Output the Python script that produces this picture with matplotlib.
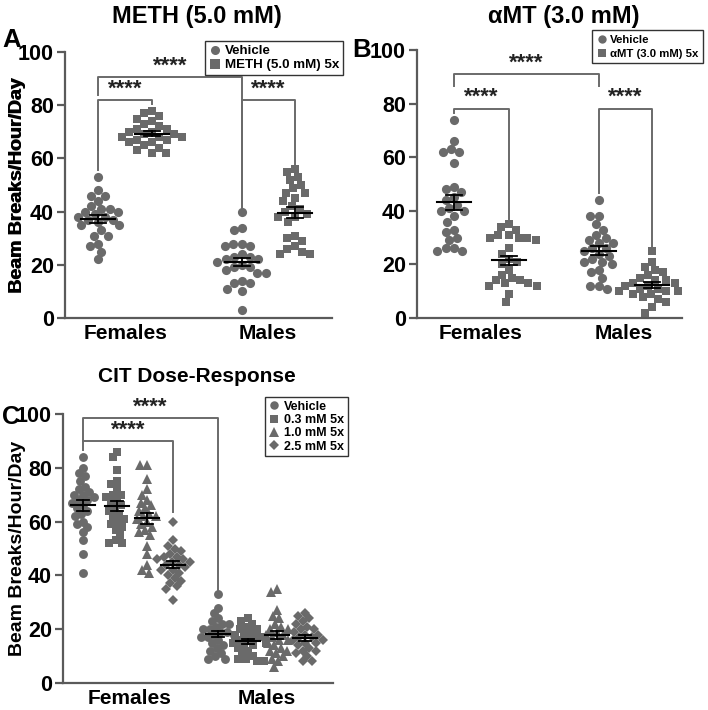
import numpy as np
import matplotlib
matplotlib.use("Agg")
import matplotlib.pyplot as plt
from matplotlib.lines import Line2D

plt.rcParams['font.family'] = ['Liberation Sans', 'DejaVu Sans']
plt.rcParams['font.weight'] = 'bold'

# ---------------- data ----------------
groups = ["Females", "Males"]

# Panel A: METH (5.0 mM)
a_fem_vehicle = [53, 48, 46, 46, 44, 42, 41, 41, 40, 40, 39, 38, 38, 37, 37, 36, 35, 35, 33, 31, 31, 28, 27, 25, 22]
a_fem_meth = [78, 77, 76, 75, 74, 73, 72, 71, 71, 70, 70, 69, 69, 68, 68, 68, 67, 67, 66, 65, 64, 63, 62, 62, 66]
a_mal_vehicle = [40, 34, 33, 28, 28, 27, 27, 24, 23, 23, 22, 22, 21, 20, 19, 19, 18, 17, 17, 14, 13, 13, 11, 10, 3]
a_mal_meth = [56, 55, 53, 52, 50, 49, 47, 47, 45, 44, 42, 40, 39, 38, 41, 38, 36, 31, 30, 29, 27, 26, 25, 24, 24]

# Panel B: aMT (3.0 mM)
b_fem_vehicle = [74, 66, 63, 62, 62, 58, 49, 48, 47, 45, 44, 42, 41, 40, 40, 38, 36, 33, 32, 30, 29, 26, 26, 25, 25]
b_fem_amt = [35, 34, 33, 31, 31, 30, 30, 29, 26, 24, 22, 21, 20, 18, 16, 15, 14, 14, 13, 13, 12, 12, 9, 6, 30]
b_mal_vehicle = [44, 38, 38, 35, 33, 31, 30, 29, 28, 28, 26, 26, 25, 24, 23, 22, 21, 21, 20, 18, 17, 15, 12, 12, 11]
b_mal_amt = [25, 21, 19, 18, 17, 16, 15, 14, 13, 13, 12, 12, 11, 11, 10, 10, 10, 9, 9, 8, 7, 6, 4, 2, 14]

# Panel C: CIT dose-response
c_labels = ["Vehicle", "0.3 mM 5x", "1.0 mM 5x", "2.5 mM 5x"]
c_fem_vehicle = [84, 80, 78, 77, 75, 72, 71, 70, 69, 68, 68, 67, 66, 65, 64, 63, 62, 60, 59, 58, 56, 53, 48, 41, 70, 73]
c_fem_03 = [86, 84, 79, 75, 74, 72, 70, 69, 67, 66, 65, 64, 63, 62, 61, 60, 59, 58, 57, 55, 53, 52, 52, 70, 68]
c_fem_10 = [81, 81, 76, 72, 70, 68, 67, 65, 64, 63, 62, 61, 60, 59, 58, 57, 56, 55, 51, 48, 44, 42, 41, 66, 62]
c_fem_25 = [60, 53, 51, 49, 48, 47, 47, 46, 45, 45, 44, 44, 43, 42, 42, 41, 40, 39, 38, 37, 36, 35, 31, 46, 50]
c_mal_vehicle = [33, 28, 26, 24, 23, 22, 21, 20, 20, 19, 19, 18, 18, 17, 17, 16, 15, 14, 13, 12, 11, 10, 9, 9, 22]
c_mal_03 = [24, 23, 22, 21, 20, 19, 18, 17, 17, 16, 16, 15, 15, 14, 14, 13, 12, 11, 10, 9, 9, 8, 8, 18, 20]
c_mal_10 = [35, 34, 27, 25, 24, 22, 21, 20, 19, 18, 18, 17, 16, 15, 14, 13, 12, 12, 11, 10, 9, 8, 6, 20, 16]
c_mal_25 = [26, 25, 24, 23, 22, 20, 19, 18, 17, 17, 16, 16, 15, 15, 14, 13, 12, 12, 11, 10, 8, 8, 20, 18, 21]

# ---------------- style ----------------
W, H = 708, 710
GRAY = '#6a6a6a'
AXC = '#5a5a5a'
fig = plt.figure(figsize=(W / 100, H / 100), dpi=100)


def px_axes(left, right, top, bottom):
    return fig.add_axes([left / W, 1 - bottom / H, (right - left) / W, (bottom - top) / H])


def swarm(vals, ypx, d):
    """Beeswarm offsets (pixels) for values given pixel-per-unit ypx."""
    v = np.asarray(vals, float)
    order = np.argsort(-v)
    placed = []
    offs = np.zeros(len(v))
    for i in order:
        y = v[i] * ypx
        cands = [0.0]
        for (px, py) in placed:
            dy = y - py
            if abs(dy) < d:
                dx = np.sqrt(d * d - dy * dy)
                cands += [px + dx, px - dx]
        cands = sorted(cands, key=lambda c: (abs(c), c))
        for c in cands:
            ok = all((c - px) ** 2 + (y - py) ** 2 >= d * d - 1e-6 for px, py in placed)
            if ok:
                offs[i] = c
                placed.append((c, y))
                break
    return offs


def style_axes(ax, xlabels_pos, left_px):
    ax.set_xlim(0, 1)
    ax.set_ylim(0, 100)
    for s in ['top', 'right']:
        ax.spines[s].set_visible(False)
    for s in ['left', 'bottom']:
        ax.spines[s].set_color(AXC)
        ax.spines[s].set_linewidth(1.6)
    ax.set_yticks([0, 20, 40, 60, 80, 100])
    ax.tick_params(axis='y', direction='out', length=6, width=1.6, color=AXC,
                   labelsize=15.5, pad=2)
    ax.set_xticks(xlabels_pos)
    ax.set_xticklabels(groups, fontsize=15, fontweight='bold')
    ax.tick_params(axis='x', length=0, pad=4)
    for lab in ax.get_yticklabels():
        lab.set_fontweight('bold')
    ax.set_ylabel("Beam Breaks/Hour/Day", fontsize=14, fontweight='bold')
    bb = ax.get_position()
    axw_px = bb.width * W
    ax.yaxis.set_label_coords((26 - left_px) / axw_px, 0.5)
    ax.patch.set_alpha(0)


def draw_group(ax, vals, xpos, marker, axw, axh, ms=6.6, d=8.6, half=17, cap=8):
    ypx = axh / 100.0
    offs = swarm(vals, ypx, d)
    xs = xpos + offs / axw
    ax.plot(xs, vals, linestyle='none', marker=marker, ms=ms, color=GRAY,
            markeredgewidth=0, clip_on=False, zorder=3)
    m = np.mean(vals)
    sem = np.std(vals, ddof=1) / np.sqrt(len(vals))
    ax.plot([xpos - half / axw, xpos + half / axw], [m, m], color='black', lw=1.5, zorder=5)
    ax.plot([xpos, xpos], [m - sem, m + sem], color='black', lw=1.3, zorder=5)
    for yy in (m - sem, m + sem):
        ax.plot([xpos - cap / axw, xpos + cap / axw], [yy, yy], color='black', lw=1.3, zorder=5)


def bracket(ax, x1, x2, y, y1, y2, star_y):
    ax.plot([x1, x1, x2, x2], [y1, y, y, y2], color=GRAY, lw=1.4, clip_on=False, zorder=2)
    ax.text((x1 + x2) / 2, star_y, "****", ha='center', va='center', fontsize=16,
            fontweight='bold', color='#222222')


# ---------------- Panel A ----------------
axA = px_axes(65, 332, 52, 318)
style_axes(axA, [0.225, 0.76], 65)
wA, hA = 267, 266
posA = [0.124, 0.326, 0.663, 0.861]
draw_group(axA, a_fem_vehicle, posA[0], 'o', wA, hA)
draw_group(axA, a_fem_meth, posA[1], 's', wA, hA, ms=6.4)
draw_group(axA, a_mal_vehicle, posA[2], 'o', wA, hA)
draw_group(axA, a_mal_meth, posA[3], 's', wA, hA, ms=6.4)
bracket(axA, posA[0], posA[2], 90.6, 84, 41.5, 94.5)
bracket(axA, posA[0], posA[1], 82, 55.5, 80.5, 86)
bracket(axA, posA[2], posA[3], 82, 41.5, 57, 86)

fig.legend(handles=[Line2D([], [], ls='none', marker='o', ms=6.5, color=GRAY, mew=0, label='Vehicle'),
                    Line2D([], [], ls='none', marker='s', ms=6.5, color=GRAY, mew=0, label='METH (5.0 mM) 5x')],
           loc='upper right', bbox_to_anchor=(343 / W, 1 - 41 / H),
           frameon=True, fancybox=False, edgecolor='#333333', framealpha=1,
           handlelength=0.8, handletextpad=0.35, borderpad=0.3, labelspacing=0.12,
           borderaxespad=0, prop={'weight': 'bold', 'size': 9.6})

# ---------------- Panel B ----------------
axB = px_axes(417, 682, 50, 318)
style_axes(axB, [0.24, 0.78], 417)
wB, hB = 265, 268
posB = [0.14, 0.347, 0.687, 0.887]
draw_group(axB, b_fem_vehicle, posB[0], 'o', wB, hB)
draw_group(axB, b_fem_amt, posB[1], 's', wB, hB, ms=6.4)
draw_group(axB, b_mal_vehicle, posB[2], 'o', wB, hB)
draw_group(axB, b_mal_amt, posB[3], 's', wB, hB, ms=6.4)
bracket(axB, posB[0], posB[2], 91, 86.5, 86.5, 95)
bracket(axB, posB[0], posB[1], 78, 76.5, 37, 82.2)
bracket(axB, posB[2], posB[3], 78, 46.5, 26.5, 82.2)

fig.legend(handles=[Line2D([], [], ls='none', marker='o', ms=6, color=GRAY, mew=0, label='Vehicle'),
                    Line2D([], [], ls='none', marker='s', ms=6, color=GRAY, mew=0, label='αMT (3.0 mM) 5x')],
           loc='upper right', bbox_to_anchor=(703 / W, 1 - 30 / H),
           frameon=True, fancybox=False, edgecolor='#333333', framealpha=1,
           handlelength=0.8, handletextpad=0.35, borderpad=0.4, labelspacing=0.35,
           borderaxespad=0, prop={'weight': 'bold', 'size': 8.2})

# ---------------- Panel C ----------------
axC = px_axes(63, 333, 414, 683)
style_axes(axC, [0.248, 0.755], 63)
wC, hC = 270, 269
posC = [0.074, 0.2, 0.311, 0.407, 0.574, 0.685, 0.793, 0.896]
markers = ['o', 's', '^', 'D']
msC = [6.4, 6.2, 6.8, 5.2]
c_sets = [c_fem_vehicle, c_fem_03, c_fem_10, c_fem_25,
          c_mal_vehicle, c_mal_03, c_mal_10, c_mal_25]
for k, vals in enumerate(c_sets):
    draw_group(axC, vals, posC[k], markers[k % 4], wC, hC, ms=msC[k % 4], d=7.0, half=12, cap=6)
bracket(axC, posC[0], posC[4], 98.5, 90, 34.5, 102.5)
bracket(axC, posC[0], posC[3], 90, 86.5, 63.5, 94)

fig.legend(handles=[Line2D([], [], ls='none', marker=markers[i], ms=msC[i] - 0.3, color=GRAY, mew=0,
                           label=c_labels[i]) for i in range(4)],
           loc='upper right', bbox_to_anchor=(348 / W, 1 - 397 / H),
           frameon=True, fancybox=False, edgecolor='#333333', framealpha=1,
           handlelength=0.8, handletextpad=0.4, borderpad=0.3, labelspacing=0.1,
           borderaxespad=0, prop={'weight': 'bold', 'size': 9})

# ---------------- titles & panel letters ----------------
fig.text(197 / W, 1 - 16 / H, "METH (5.0 mM)", ha='center', va='center', fontsize=17, fontweight='bold')
fig.text(564 / W, 1 - 16 / H, "αMT (3.0 mM)", ha='center', va='center', fontsize=17, fontweight='bold')
fig.text(197 / W, 1 - 376 / H, "CIT Dose-Response", ha='center', va='center', fontsize=15, fontweight='bold')
fig.text(12 / W, 1 - 40 / H, "A", ha='center', va='center', fontsize=18.5, fontweight='bold')
fig.text(362 / W, 1 - 50 / H, "B", ha='center', va='center', fontsize=18.5, fontweight='bold')
fig.text(11 / W, 1 - 417 / H, "C", ha='center', va='center', fontsize=18, fontweight='bold')

fig.savefig("out.png", dpi=100)
